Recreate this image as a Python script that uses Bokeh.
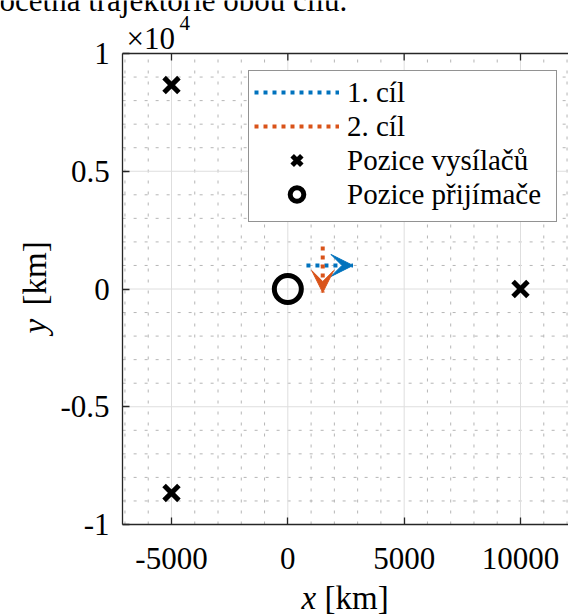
import math
from bokeh.plotting import figure
from bokeh.models import (FixedTicker, LinearAxis, Legend, LegendItem, Label,
                          Arrow, VeeHead, Range1d)
from bokeh.embed import file_html
from bokeh.resources import INLINE

# ---------------- data ----------------
tx_x = [-5000, -5000, 10000]          # transmitters
tx_y = [8660, -8660, 0]
rx_x = [0]                            # receiver
rx_y = [0]
t1_x = [800, 1400, 2000, 2800]        # target 1 trajectory
t1_y = [1000, 1000, 1000, 1000]
t2_x = [1500, 1500, 1500, 1500]       # target 2 trajectory
t2_y = [1800, 1200, 600, -150]

# axis limits (xlim / ylim) and ticks
X_LO, X_HI = -7100, 12500
Y_LO, Y_HI = -10000, 10000
x_ticks = [-5000, 0, 5000, 10000]
x_tick_labels = ["-5000", "0", "5000", "10000"]
x_minor = [v for v in range(-7000, 12001, 1000) if v not in x_ticks]
y_ticks = [-10000, -5000, 0, 5000, 10000]
y_tick_labels = ["-1", "-0.5", "0", "0.5", "1"]
y_minor = [v for v in range(-9000, 9001, 1000) if v not in y_ticks]

legend_labels = ["1. cíl", "2. cíl", "Pozice vysílačů", "Pozice přijímače"]
title_fragment = "očetná trajektorie obou cílů."

BLUE = "#0072BD"
ORANGE = "#D95319"
AX = "#262626"
SERIF = "Liberation Serif"

W, H = 568, 615
XR = (-12349, 12063)
YR = (-13864, 12251)
TICK_PX = 7

# ---------------- figure (frame = whole canvas, axes at fixed locations) ----------------
p = figure(width=W, height=H, x_range=Range1d(*XR), y_range=Range1d(*YR),
           x_axis_location=None, y_axis_location=None, min_border=0,
           output_backend="svg", toolbar_location=None)
p.outline_line_color = None
p.background_fill_color = "white"
p.border_fill_color = "white"
for g in p.grid:
    g.visible = False

# grid lines inside the axes box, built from the tick arrays
xmaj_in = [v for v in x_ticks if X_LO < v < X_HI]
ymaj_in = [v for v in y_ticks if Y_LO < v < Y_HI]
p.segment(x0=x_minor, y0=[Y_LO] * len(x_minor), x1=x_minor, y1=[Y_HI] * len(x_minor),
          line_color="#b5b5b5", line_width=1, line_dash="3 8")
p.segment(x0=[X_LO] * len(y_minor), y0=y_minor, x1=[X_HI] * len(y_minor), y1=y_minor,
          line_color="#b5b5b5", line_width=1, line_dash="3 8")
p.segment(x0=xmaj_in, y0=[Y_LO] * len(xmaj_in), x1=xmaj_in, y1=[Y_HI] * len(xmaj_in),
          line_color="#dedede", line_width=1)
p.segment(x0=[X_LO] * len(ymaj_in), y0=ymaj_in, x1=[X_HI] * len(ymaj_in), y1=ymaj_in,
          line_color="#dedede", line_width=1)

def style_axis(ax):
    ax.major_label_text_font = SERIF
    ax.major_label_text_font_size = "31px"
    ax.major_label_text_color = "black"
    ax.major_tick_in = TICK_PX
    ax.major_tick_out = 0
    ax.minor_tick_in = 0
    ax.minor_tick_out = 0
    ax.axis_line_color = AX
    ax.axis_line_width = 1.3
    ax.major_tick_line_color = AX
    ax.major_tick_line_width = 1.3

xb = LinearAxis(fixed_location=Y_LO, bounds=(X_LO, X_HI),
                ticker=FixedTicker(ticks=x_ticks, minor_ticks=[]),
                major_label_overrides={float(v): s for v, s in zip(x_ticks, x_tick_labels)},
                major_label_standoff=23)
style_axis(xb)
p.add_layout(xb, "below")

yl = LinearAxis(fixed_location=X_LO, bounds=(Y_LO, Y_HI),
                ticker=FixedTicker(ticks=y_ticks, minor_ticks=[]),
                major_label_overrides={float(v): s for v, s in zip(y_ticks, y_tick_labels)},
                major_label_standoff=13)
style_axis(yl)
p.add_layout(yl, "left")

# top box edge with inward ticks (no labels)
tick_len = TICK_PX * (YR[1] - YR[0]) / H
p.segment(x0=[X_LO], y0=[Y_HI], x1=[X_HI], y1=[Y_HI], line_color=AX, line_width=1.3)
p.segment(x0=x_ticks, y0=[Y_HI] * len(x_ticks), x1=x_ticks,
          y1=[Y_HI - tick_len] * len(x_ticks), line_color=AX, line_width=1.3)

# ---------------- marks ----------------
r1 = p.line(t1_x, t1_y, line_color=BLUE, line_width=4, line_dash="4 5")
p.add_layout(Arrow(end=VeeHead(size=22, fill_color=BLUE, line_color=BLUE),
                   x_start=t1_x[-2], y_start=t1_y[-2],
                   x_end=t1_x[-1], y_end=t1_y[-1], line_alpha=0))
r2 = p.line(t2_x, t2_y, line_color=ORANGE, line_width=4, line_dash="4 5")
p.add_layout(Arrow(end=VeeHead(size=22, fill_color=ORANGE, line_color=ORANGE),
                   x_start=t2_x[-2], y_start=t2_y[-2],
                   x_end=t2_x[-1], y_end=t2_y[-1], line_alpha=0))
r3 = p.scatter(tx_x, tx_y, marker="x", size=21, line_width=5, line_color="black")
r4 = p.scatter(rx_x, rx_y, marker="circle", size=27, line_width=5,
               line_color="black", fill_color=None)

legend = Legend(items=[LegendItem(label=legend_labels[0], renderers=[r1]),
                       LegendItem(label=legend_labels[1], renderers=[r2]),
                       LegendItem(label=legend_labels[2], renderers=[r3]),
                       LegendItem(label=legend_labels[3], renderers=[r4])],
                location=(248, 393), spacing=0,
                padding=dict(left=5, right=6, top=4, bottom=10),
                glyph_width=85, glyph_height=34, label_height=34,
                label_width=203, label_standoff=8,
                label_text_font=SERIF, label_text_font_size="29px",
                label_text_color="black",
                border_line_color=AX, border_line_width=1,
                background_fill_color="white", background_fill_alpha=1)
p.add_layout(legend)

# ---------------- texts (screen px from the canvas' bottom-left) ----------------
def lab(text, x, y, size, style="normal", angle=0, baseline="middle"):
    p.add_layout(Label(x=x, y=y, x_units="screen", y_units="screen", text=text,
                       text_font=SERIF, text_font_size=size, text_font_style=style,
                       text_color="black", angle=angle, text_align="left",
                       text_baseline=baseline))

lab("x", 301, 18, "33px", style="italic")
lab("[km]", 324, 18, "33px")
lab("y", 34, 282, "33px", style="italic", angle=math.pi / 2)
lab("[km]", 34, 310, "33px", angle=math.pi / 2)
lab("×10", 126, 577, "31px", baseline="alphabetic")
lab("4", 179, 593, "21px", baseline="alphabetic")
lab(title_fragment, -1, 615, "31px", baseline="alphabetic")

open("out.html", "w").write(file_html(p, INLINE))
